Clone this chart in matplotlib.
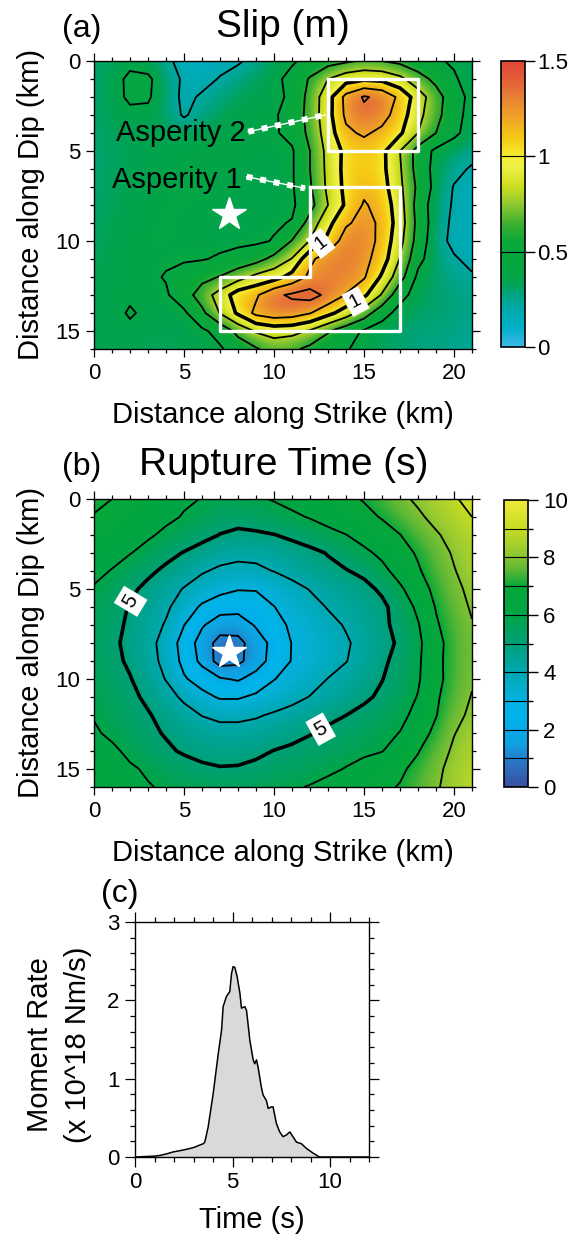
import numpy as np
import matplotlib
matplotlib.use("Agg")
import matplotlib.pyplot as plt
from matplotlib.colors import LinearSegmentedColormap
from matplotlib.ticker import MultipleLocator

plt.rcParams["font.family"] = ["Liberation Sans", "DejaVu Sans"]

W, H = 583, 1234

# fault grid, 1 km spacing (rows = dip 0..16, cols = strike 0..21)
strike_km = np.arange(22)
dip_km = np.arange(17)
hypo_strike, hypo_dip = 7.5, 8.5

slip_m = np.array([
    [0.30, 0.32, 0.35, 0.32, 0.25, 0.12, 0.12, 0.15, 0.18, 0.25, 0.32, 0.38, 0.45, 0.52, 0.57, 0.62, 0.60, 0.55, 0.48, 0.42, 0.38, 0.32],
    [0.30, 0.33, 0.44, 0.43, 0.30, 0.17, 0.15, 0.21, 0.27, 0.32, 0.36, 0.45, 0.62, 0.80, 0.92, 0.97, 0.95, 0.85, 0.68, 0.55, 0.42, 0.33],
    [0.30, 0.34, 0.43, 0.42, 0.30, 0.16, 0.22, 0.28, 0.32, 0.34, 0.36, 0.43, 0.67, 0.92, 1.26, 1.42, 1.35, 1.15, 0.90, 0.68, 0.48, 0.35],
    [0.30, 0.33, 0.36, 0.36, 0.30, 0.18, 0.27, 0.32, 0.35, 0.36, 0.38, 0.47, 0.67, 0.93, 1.24, 1.35, 1.28, 1.10, 0.86, 0.66, 0.47, 0.33],
    [0.30, 0.32, 0.34, 0.35, 0.34, 0.33, 0.35, 0.37, 0.38, 0.38, 0.38, 0.45, 0.65, 0.90, 1.16, 1.23, 1.15, 1.03, 0.80, 0.60, 0.44, 0.32],
    [0.30, 0.31, 0.33, 0.35, 0.36, 0.37, 0.38, 0.38, 0.38, 0.37, 0.37, 0.38, 0.60, 0.86, 1.05, 1.10, 1.05, 0.80, 0.52, 0.36, 0.30, 0.26],
    [0.30, 0.31, 0.33, 0.35, 0.37, 0.38, 0.39, 0.38, 0.37, 0.36, 0.36, 0.38, 0.60, 0.85, 1.06, 1.10, 1.05, 0.82, 0.52, 0.34, 0.25, 0.18],
    [0.30, 0.32, 0.34, 0.36, 0.38, 0.39, 0.39, 0.38, 0.37, 0.36, 0.36, 0.38, 0.58, 0.84, 1.05, 1.15, 1.08, 0.84, 0.56, 0.34, 0.19, 0.15],
    [0.30, 0.32, 0.35, 0.37, 0.39, 0.39, 0.38, 0.37, 0.36, 0.36, 0.37, 0.37, 0.53, 0.80, 1.03, 1.22, 1.13, 0.88, 0.52, 0.30, 0.18, 0.15],
    [0.31, 0.33, 0.36, 0.38, 0.39, 0.38, 0.37, 0.36, 0.36, 0.37, 0.38, 0.41, 0.68, 0.94, 1.17, 1.27, 1.16, 0.90, 0.54, 0.30, 0.16, 0.15],
    [0.31, 0.34, 0.37, 0.39, 0.39, 0.38, 0.37, 0.36, 0.36, 0.37, 0.41, 0.61, 0.81, 1.05, 1.30, 1.30, 1.14, 0.86, 0.52, 0.28, 0.15, 0.16],
    [0.32, 0.35, 0.37, 0.38, 0.38, 0.38, 0.39, 0.42, 0.47, 0.53, 0.66, 0.81, 1.16, 1.30, 1.32, 1.26, 1.10, 0.79, 0.45, 0.30, 0.22, 0.15],
    [0.33, 0.36, 0.38, 0.37, 0.41, 0.48, 0.54, 0.61, 0.72, 0.85, 0.92, 1.07, 1.24, 1.30, 1.30, 1.22, 0.97, 0.68, 0.36, 0.30, 0.26, 0.22],
    [0.34, 0.37, 0.37, 0.37, 0.38, 0.50, 0.70, 0.88, 1.10, 1.17, 1.36, 1.43, 1.48, 1.35, 1.19, 1.04, 0.78, 0.46, 0.33, 0.30, 0.28, 0.26],
    [0.34, 0.34, 0.42, 0.36, 0.34, 0.37, 0.55, 0.81, 1.03, 1.25, 1.32, 1.30, 1.21, 1.06, 0.90, 0.70, 0.47, 0.34, 0.30, 0.30, 0.28, 0.26],
    [0.34, 0.35, 0.36, 0.34, 0.33, 0.34, 0.37, 0.46, 0.66, 0.82, 0.88, 0.86, 0.78, 0.62, 0.48, 0.38, 0.32, 0.30, 0.28, 0.28, 0.27, 0.25],
    [0.33, 0.34, 0.34, 0.32, 0.32, 0.33, 0.35, 0.38, 0.48, 0.58, 0.68, 0.64, 0.55, 0.46, 0.41, 0.36, 0.32, 0.30, 0.28, 0.27, 0.25, 0.22],
])

rupture_s = np.array([
    [7.20, 7.00, 6.75, 6.50, 6.30, 6.10, 5.98, 5.85, 5.80, 5.90, 6.05, 6.25, 6.45, 6.65, 6.85, 7.05, 7.40, 7.80, 8.15, 8.55, 8.90, 9.30],
    [6.95, 6.75, 6.55, 6.35, 6.15, 5.95, 5.70, 5.45, 5.35, 5.50, 5.70, 5.85, 6.05, 6.30, 6.55, 6.80, 7.05, 7.45, 7.85, 8.25, 8.65, 9.00],
    [6.70, 6.50, 6.30, 6.10, 5.85, 5.60, 5.30, 4.97, 4.80, 4.85, 4.97, 5.20, 5.50, 5.75, 5.98, 6.35, 6.68, 6.98, 7.45, 7.90, 8.30, 8.75],
    [6.40, 6.20, 6.03, 5.75, 5.30, 4.95, 4.60, 4.35, 4.20, 4.20, 4.35, 4.55, 4.75, 5.05, 5.40, 5.80, 6.20, 6.65, 7.10, 7.60, 8.10, 8.55],
    [6.15, 5.97, 5.60, 5.20, 4.80, 4.45, 4.08, 3.85, 3.78, 3.85, 4.02, 4.30, 4.55, 4.75, 4.95, 5.20, 5.75, 6.35, 6.90, 7.45, 7.95, 8.40],
    [5.95, 5.60, 5.20, 4.75, 4.35, 3.95, 3.60, 3.30, 3.05, 3.05, 3.35, 3.70, 4.04, 4.30, 4.55, 4.75, 5.15, 5.85, 6.55, 7.25, 7.75, 8.25],
    [5.80, 5.40, 4.93, 4.50, 4.15, 3.55, 2.85, 2.40, 2.35, 2.60, 2.98, 3.35, 3.70, 4.05, 4.35, 4.60, 4.80, 5.40, 6.20, 7.05, 7.60, 8.10],
    [5.65, 5.30, 4.83, 4.40, 3.92, 3.02, 2.10, 1.50, 1.45, 2.10, 2.70, 3.14, 3.45, 3.75, 4.07, 4.43, 4.78, 5.30, 5.93, 6.90, 7.45, 7.95],
    [5.55, 5.20, 4.75, 4.30, 3.65, 2.60, 1.60, 0.62, 0.70, 1.50, 2.30, 3.03, 3.32, 3.60, 3.90, 4.27, 4.67, 5.15, 5.80, 6.70, 7.40, 7.80],
    [5.60, 5.25, 4.85, 4.35, 3.74, 2.73, 1.75, 0.58, 0.75, 1.55, 2.37, 3.05, 3.35, 3.65, 3.97, 4.37, 4.80, 5.35, 5.85, 6.75, 7.40, 7.85],
    [5.75, 5.40, 5.05, 4.50, 3.96, 3.10, 2.60, 2.10, 1.90, 2.36, 2.97, 3.32, 3.66, 4.02, 4.32, 4.65, 4.97, 5.43, 5.90, 6.73, 7.40, 7.90],
    [5.85, 5.55, 5.20, 4.83, 4.35, 3.83, 3.28, 2.90, 2.90, 3.17, 3.44, 3.72, 4.03, 4.28, 4.56, 4.83, 5.17, 5.60, 6.04, 6.87, 7.50, 8.05],
    [5.95, 5.65, 5.35, 5.07, 4.70, 4.33, 3.97, 3.80, 3.80, 3.90, 4.11, 4.33, 4.55, 4.77, 4.99, 5.26, 5.53, 5.80, 6.22, 6.96, 7.70, 8.20],
    [6.10, 5.85, 5.50, 5.18, 4.93, 4.65, 4.45, 4.30, 4.30, 4.40, 4.55, 4.72, 4.95, 5.18, 5.38, 5.59, 5.80, 6.02, 6.59, 7.22, 7.96, 8.40],
    [6.30, 6.15, 5.83, 5.48, 5.14, 4.90, 4.75, 4.70, 4.72, 4.82, 5.02, 5.17, 5.33, 5.49, 5.65, 5.81, 5.97, 6.42, 6.95, 7.56, 8.15, 8.60],
    [6.50, 6.30, 6.10, 5.90, 5.60, 5.35, 5.15, 5.05, 5.07, 5.20, 5.35, 5.50, 5.65, 5.80, 6.05, 6.35, 6.60, 6.85, 7.25, 7.80, 8.30, 8.75],
    [6.70, 6.45, 6.25, 6.05, 5.90, 5.80, 5.70, 5.65, 5.65, 5.70, 5.80, 5.90, 6.05, 6.30, 6.50, 6.65, 6.85, 7.05, 7.50, 7.90, 8.35, 8.85],
])

# moment rate function
time_s = [0.0, 0.94, 1.28, 1.62, 1.96, 2.5, 3.0, 3.5, 3.58, 3.75, 4.01, 4.27, 4.44, 4.52,
          4.69, 4.86, 4.95, 5.03, 5.12, 5.24, 5.38, 5.46, 5.63, 5.72, 5.89, 6.06, 6.14,
          6.23, 6.31, 6.48, 6.57, 6.74, 6.83, 7.0, 7.08, 7.25, 7.42, 7.59, 7.76, 7.94,
          8.1, 8.28, 8.53, 8.79, 9.13, 9.39, 9.47, 12.0]
moment_rate = [0.0, 0.01, 0.02, 0.04, 0.065, 0.09, 0.12, 0.17, 0.19, 0.38, 0.81, 1.32, 1.62,
               1.92, 2.05, 2.11, 2.34, 2.43, 2.42, 2.30, 2.09, 1.90, 1.92, 1.87, 1.49, 1.24,
               1.19, 1.24, 1.15, 0.89, 0.79, 0.72, 0.62, 0.64, 0.64, 0.43, 0.32, 0.26, 0.28,
               0.32, 0.26, 0.19, 0.17, 0.11, 0.05, 0.01, 0.0, 0.0]

slip_levels = [0.2, 0.4, 0.6, 0.8, 1.2, 1.4]
time_levels = [1, 2, 3, 4, 6, 7, 8, 9]

asperity1 = [(12, 7), (17, 7), (17, 15), (7, 15), (7, 12), (12, 12), (12, 7)]
asperity2 = [(13, 1), (18, 1), (18, 5), (13, 5), (13, 1)]

slip_cmap = LinearSegmentedColormap.from_list("slip", [
    (0.00, "#3cb8e8"), (0.10 / 1.5, "#00b0c8"), (0.20 / 1.5, "#00a8a8"),
    (0.27 / 1.5, "#00a482"), (0.33 / 1.5, "#00a352"), (0.40 / 1.5, "#04a642"),
    (0.55 / 1.5, "#0aa838"), (0.65 / 1.5, "#40b030"), (0.75 / 1.5, "#90c830"),
    (0.85 / 1.5, "#d0e020"), (0.95 / 1.5, "#f0f048"), (1.00 / 1.5, "#f5ee30"),
    (1.10 / 1.5, "#f5c815"), (1.20 / 1.5, "#f0a525"), (1.32 / 1.5, "#e87c35"),
    (1.42 / 1.5, "#e25a36"), (1.0, "#e0453a")])

time_cmap = LinearSegmentedColormap.from_list("rtime", [
    (0.00, "#3a4fa0"), (0.07, "#2d6fc0"), (0.15, "#10a0e0"), (0.25, "#00b4ec"),
    (0.32, "#05b0d8"), (0.40, "#00a8b0"), (0.50, "#00a078"), (0.60, "#00a545"),
    (0.70, "#05a838"), (0.76, "#60b835"), (0.83, "#9ccc30"), (0.90, "#c5dc22"),
    (1.00, "#f0ea3a")])


def box(l, t, r, b):
    return [l / W, 1 - b / H, (r - l) / W, (b - t) / H]


def style_axes(ax, xmaj, xmin, ymaj, ymin):
    ax.xaxis.set_major_locator(MultipleLocator(xmaj))
    ax.xaxis.set_minor_locator(MultipleLocator(xmin))
    ax.yaxis.set_major_locator(MultipleLocator(ymaj))
    ax.yaxis.set_minor_locator(MultipleLocator(ymin))
    ax.tick_params(which="both", direction="out", top=True, right=True,
                   labelsize=16, width=0.9, pad=4)
    ax.tick_params(which="major", length=6)
    ax.tick_params(which="minor", length=3)
    for s in ax.spines.values():
        s.set_linewidth(1.0)


def fault_panel(ax, grid, cmap, vmax, levels, thick, label_pos, label_size):
    im = ax.imshow(grid, cmap=cmap, vmin=0, vmax=vmax, interpolation="bicubic",
                   extent=(-0.5, 21.5, 16.5, -0.5), aspect="auto", origin="upper")
    ax.contour(strike_km, dip_km, grid, levels=levels, colors="k", linewidths=1.3)
    cs = ax.contour(strike_km, dip_km, grid, levels=[thick], colors="k", linewidths=2.6)
    labels = ax.clabel(cs, manual=label_pos, fmt="%g", fontsize=label_size,
                       inline=True, inline_spacing=4)
    for t in labels:
        t.set_bbox(dict(boxstyle="square,pad=0.2", fc="white", ec="none"))
    ax.plot(hypo_strike, hypo_dip, marker="*", ms=25, color="white", mec="white", zorder=6)
    ax.set_xlim(0, 21)
    ax.set_ylim(16, 0)
    style_axes(ax, 5, 1, 5, 1)
    return im


fig = plt.figure(figsize=(W / 100, H / 100), dpi=100)

# (a) slip
ax_a = fig.add_axes(box(94, 61, 472, 349))
im_a = fault_panel(ax_a, slip_m, slip_cmap, 1.5, slip_levels, 1.0,
                   [(12.7, 10.3), (14.6, 13.5)], 14)
for poly in (asperity1, asperity2):
    xs, ys = zip(*poly)
    ax_a.plot(xs, ys, color="white", lw=2.4, zorder=5)
for (x0, y0, x1, y1) in [(8.57, 3.93, 12.83, 3.0), (8.48, 6.43, 11.72, 7.07)]:
    ax_a.plot([x0, x1], [y0, y1], color="white", lw=1.0, zorder=5)
    ax_a.plot([x0, x1], [y0, y1], color="white", lw=4.3, ls=(0, (1, 1.3)), zorder=5)
ax_a.text(1.2, 4.44, "Asperity 2", fontsize=21, ha="left", va="baseline")
ax_a.text(1.0, 7.04, "Asperity 1", fontsize=21, ha="left", va="baseline")

cax_a = fig.add_axes(box(501, 61, 525, 347))
cb_a = fig.colorbar(im_a, cax=cax_a)
cb_a.set_ticks([0, 0.5, 1, 1.5], labels=["0", "0.5", "1", "1.5"])
cb_a.ax.tick_params(length=7, width=1, labelsize=16, pad=2)
cb_a.outline.set_linewidth(1.2)
for v in (0.5, 1.0):
    cax_a.axhline(v, color="k", lw=0.8)

# (b) rupture time
ax_b = fig.add_axes(box(94, 499, 472, 787))
im_b = fault_panel(ax_b, rupture_s, time_cmap, 10, time_levels, 5,
                   [(1.9, 5.6), (12.6, 12.8)], 15)

cax_b = fig.add_axes(box(504, 500, 528, 787))
cb_b = fig.colorbar(im_b, cax=cax_b)
cb_b.set_ticks([0, 2, 4, 6, 8, 10])
cax_b.set_yticks([1, 3, 5, 7, 9], minor=True)
cax_b.tick_params(which="major", length=7, width=1, labelsize=16, pad=4)
cax_b.tick_params(which="minor", length=3.5, width=1)
cb_b.outline.set_linewidth(1.2)
for v in range(1, 10):
    cax_b.axhline(v, color="k", lw=0.8)

for top in (0, 438):
    fig.text(31 / W, 1 - (205 + top) / H, "Distance along Dip (km)", fontsize=21,
             rotation=90, ha="center", va="center")
    fig.text(283 / W, 1 - (423 + top) / H, "Distance along Strike (km)", fontsize=21,
             ha="center", va="baseline")

fig.text(283 / W, 1 - 37 / H, "Slip (m)", fontsize=28, ha="center", va="baseline")
fig.text(62 / W, 1 - 37 / H, "(a)", fontsize=23, ha="left", va="baseline")
fig.text(284 / W, 1 - 475 / H, "Rupture Time (s)", fontsize=28, ha="center", va="baseline")
fig.text(62 / W, 1 - 475 / H, "(b)", fontsize=23, ha="left", va="baseline")

# (c) moment rate
ax_c = fig.add_axes(box(135, 922, 369, 1157))
ax_c.fill_between(time_s, moment_rate, 0, color="#d9d9d9", lw=0)
ax_c.plot(time_s, moment_rate, color="k", lw=1.1)
ax_c.set_xlim(0, 12)
ax_c.set_ylim(0, 3)
style_axes(ax_c, 5, 1, 1, 0.2)
ax_c.tick_params(which="major", length=7)
ax_c.tick_params(which="minor", length=3.5)
fig.text(101 / W, 1 - 902 / H, "(c)", fontsize=23, ha="left", va="baseline")
fig.text(252 / W, 1 - 1228 / H, "Time (s)", fontsize=21, ha="center", va="baseline")
fig.text(59 / W, 1 - 1045 / H, "Moment Rate\n(x 10^18 Nm/s)", fontsize=21,
         rotation=90, ha="center", va="center", multialignment="center", linespacing=1.42)

fig.savefig("out.png", dpi=100)
